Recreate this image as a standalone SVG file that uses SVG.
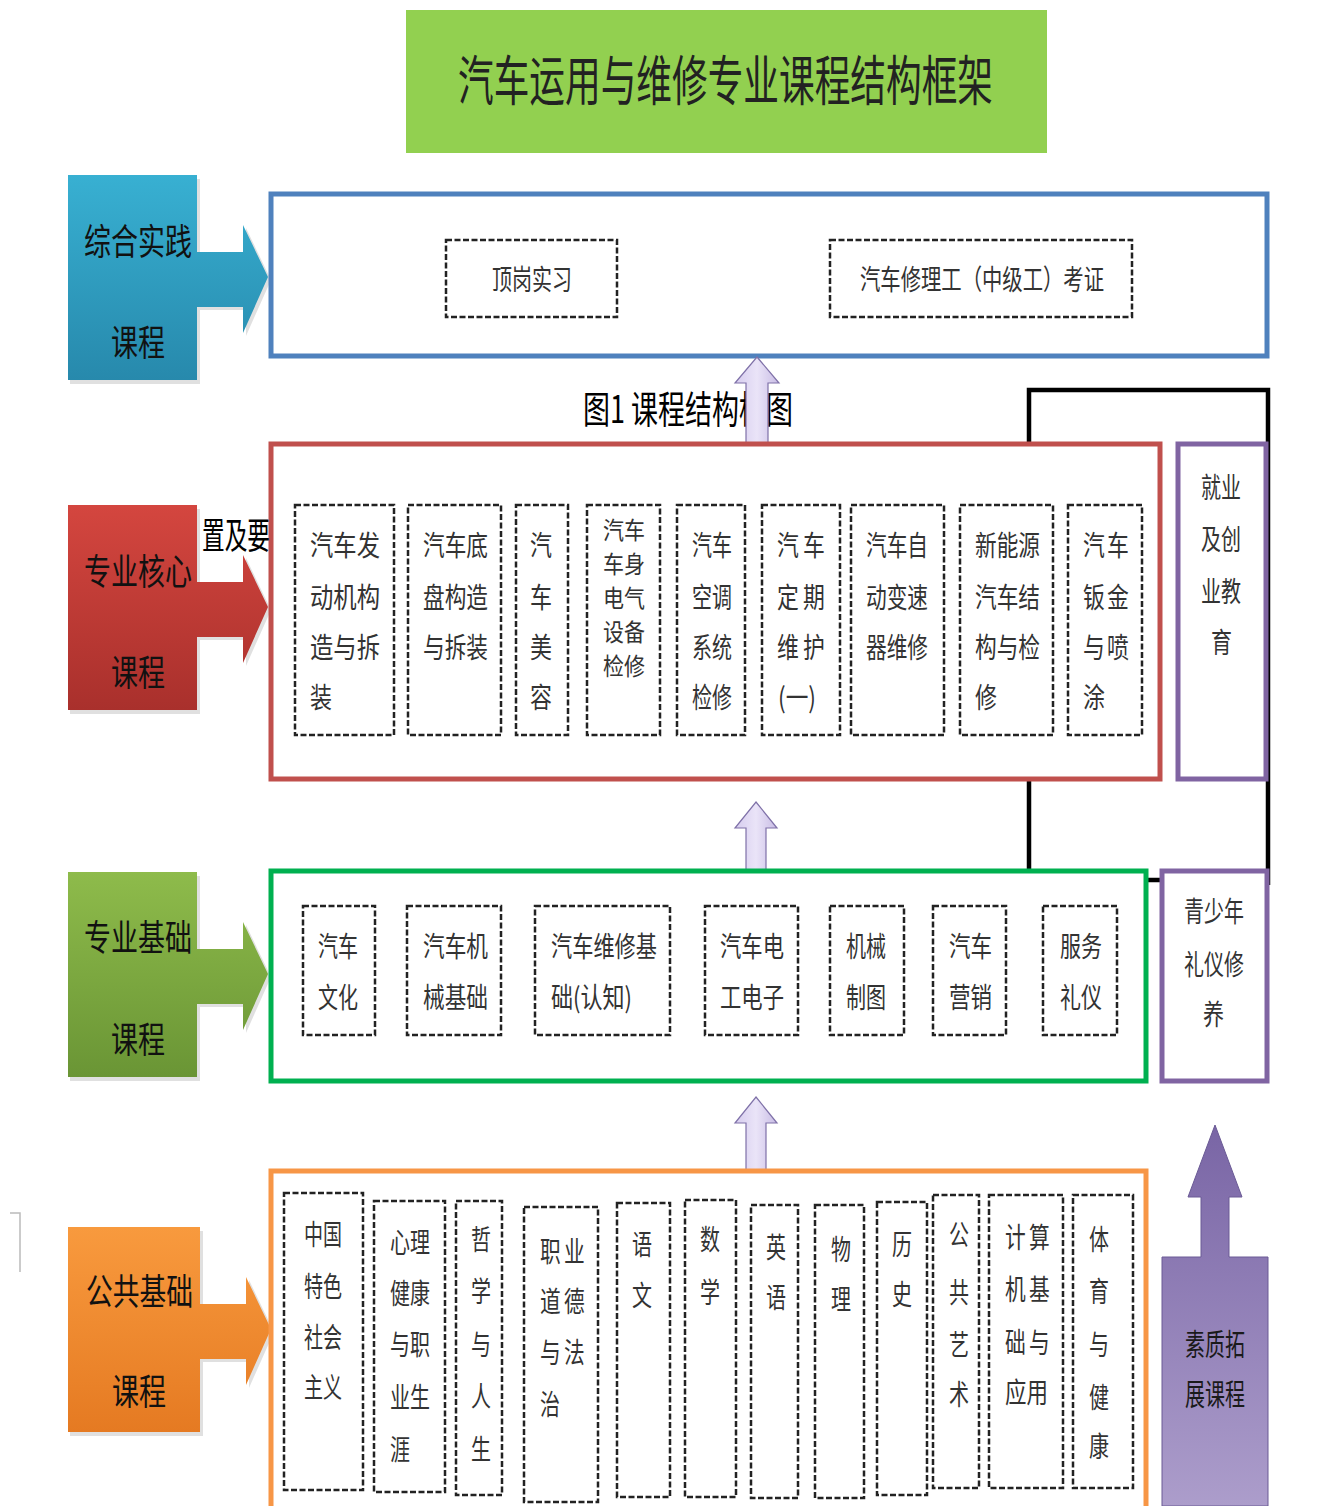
<svg xmlns="http://www.w3.org/2000/svg" width="1339" height="1506" viewBox="0 0 1339 1506">
<style>
text{font-family:"Noto Sans CJK SC","Noto Sans CJK SC",sans-serif}
.dash{fill:#fff;stroke:#222;stroke-width:2.5;stroke-dasharray:6 2.5}
.t{font-size:28px;fill:#333}
.s{font-size:24px;fill:#333}
.lbl{font-size:36px;fill:#111}
.frame{fill:#fff;stroke-width:5}
.up{fill:url(#lav);stroke:#7F71A8;stroke-width:1.2}
.conn{fill:none;stroke:#000;stroke-width:4.5}
.shadow{fill:#000;opacity:0.12}
</style>
<defs>
<linearGradient id="gBlue" x1="0" y1="0" x2="0" y2="1"><stop offset="0" stop-color="#38B0D2"/><stop offset="1" stop-color="#2789AC"/></linearGradient>
<linearGradient id="gRed" x1="0" y1="0" x2="0" y2="1"><stop offset="0" stop-color="#D4463F"/><stop offset="1" stop-color="#A9302C"/></linearGradient>
<linearGradient id="gGreen" x1="0" y1="0" x2="0" y2="1"><stop offset="0" stop-color="#8EBB4B"/><stop offset="1" stop-color="#6A9535"/></linearGradient>
<linearGradient id="gOrange" x1="0" y1="0" x2="0" y2="1"><stop offset="0" stop-color="#F89A3E"/><stop offset="1" stop-color="#E57A22"/></linearGradient>
<linearGradient id="lav" x1="0" y1="0" x2="1" y2="0"><stop offset="0" stop-color="#D6CCEE"/><stop offset="0.5" stop-color="#EAE4F8"/><stop offset="1" stop-color="#C8BCE4"/></linearGradient>
<linearGradient id="gPurple" x1="0" y1="0" x2="0" y2="1"><stop offset="0" stop-color="#7965A5"/><stop offset="1" stop-color="#AC9DCB"/></linearGradient>
</defs>
<rect width="1339" height="1506" fill="#fff"/>

<g id="title">
<rect x="406" y="10" width="641" height="143" fill="#92D050"/>
<text x="458" y="101" font-size="54" fill="#222" textLength="535" lengthAdjust="spacingAndGlyphs">汽车运用与维修专业课程结构框架</text>
</g>

<path d="M10,1213 H20 V1272" fill="none" stroke="#bbb" stroke-width="1.5"/>

<g id="label-zonghe">
<path class="shadow" d="M70,179 H200 V253 H246 V228 L271,280 L246,336 V310 H200 V384 H70 Z"/>
<path d="M68,175 H197 V252 H243 V225 L268,277 L243,333 V307 H197 V380 H68 Z" fill="url(#gBlue)"/>
<text class="lbl" x="84" y="255" textLength="108" lengthAdjust="spacingAndGlyphs">综合实践</text>
<text class="lbl" x="111" y="356" textLength="54" lengthAdjust="spacingAndGlyphs">课程</text>
</g>

<g id="label-hexin">
<path class="shadow" d="M70,509 H200 V583 H246 V558 L271,610 L246,666 V640 H200 V714 H70 Z"/>
<path d="M68,505 H197 V582 H243 V555 L268,607 L243,663 V637 H197 V710 H68 Z" fill="url(#gRed)"/>
<text class="lbl" x="84" y="585" textLength="108" lengthAdjust="spacingAndGlyphs">专业核心</text>
<text class="lbl" x="111" y="686" textLength="54" lengthAdjust="spacingAndGlyphs">课程</text>
</g>

<g id="label-jichu">
<path class="shadow" d="M70,876 H200 V950 H246 V925 L271,977 L246,1033 V1007 H200 V1081 H70 Z"/>
<path d="M68,872 H197 V949 H243 V922 L268,974 L243,1030 V1004 H197 V1077 H68 Z" fill="url(#gGreen)"/>
<text class="lbl" x="84" y="951" textLength="108" lengthAdjust="spacingAndGlyphs">专业基础</text>
<text class="lbl" x="111" y="1053" textLength="54" lengthAdjust="spacingAndGlyphs">课程</text>
</g>

<g id="label-gonggong">
<path class="shadow" d="M70,1231 H203 V1305 H249 V1280 L274,1332 L249,1388 V1362 H203 V1436 H70 Z"/>
<path d="M68,1227 H200 V1304 H246 V1277 L271,1329 L246,1385 V1359 H200 V1432 H68 Z" fill="url(#gOrange)"/>
<text class="lbl" x="86" y="1305" textLength="107" lengthAdjust="spacingAndGlyphs">公共基础</text>
<text class="lbl" x="112" y="1405" textLength="54" lengthAdjust="spacingAndGlyphs">课程</text>
</g>

<g id="box-zonghe">
<rect class="frame" x="271" y="194" width="996" height="162" stroke="#4F81BD" stroke-width="4.5"/>
<rect class="dash" x="446" y="240" width="171" height="77"/>
<text class="t" font-size="26" x="492" y="290" textLength="80" lengthAdjust="spacingAndGlyphs">顶岗实习</text>
<rect class="dash" x="830" y="240" width="302" height="77"/>
<text class="t" font-size="26" x="860" y="290" textLength="244" lengthAdjust="spacingAndGlyphs">汽车修理工（中级工）考证</text>
</g>

<g id="caption">
<text x="583" y="423" font-size="38" fill="#000" textLength="210" lengthAdjust="spacingAndGlyphs">图1 课程结构框图</text>
</g>

<g id="connectors">
<path class="conn" d="M1029,443 V390 H1268 V885"/>
<path class="conn" d="M1029,780 V870"/>
<path class="conn" d="M1146,880 H1163"/>
<path class="up" d="M757,357 L779,383 H768 V447 H746 V383 H735 Z"/>
<path class="up" d="M756,802 L777,828 H766 V872 H746 V828 H735 Z"/>
<path class="up" d="M756,1097 L777,1123 H766 V1170 H746 V1123 H735 Z"/>
</g>

<g id="box-hexin">
<rect class="frame" x="271" y="444" width="889" height="335" stroke="#C0504D"/>
<rect class="dash" x="295" y="505" width="99" height="230"/>
<text class="t" x="310" y="556" textLength="70" lengthAdjust="spacingAndGlyphs">汽车发</text>
<text class="t" x="310" y="608" textLength="70" lengthAdjust="spacingAndGlyphs">动机构</text>
<text class="t" x="310" y="658" textLength="70" lengthAdjust="spacingAndGlyphs">造与拆</text>
<text class="t" x="310" y="708" textLength="22" lengthAdjust="spacingAndGlyphs">装</text>
<rect class="dash" x="408" y="505" width="93" height="230"/>
<text class="t" x="423" y="556" textLength="65" lengthAdjust="spacingAndGlyphs">汽车底</text>
<text class="t" x="423" y="608" textLength="65" lengthAdjust="spacingAndGlyphs">盘构造</text>
<text class="t" x="423" y="658" textLength="65" lengthAdjust="spacingAndGlyphs">与拆装</text>
<rect class="dash" x="516" y="505" width="52" height="230"/>
<text class="t" x="530" y="556" textLength="22" lengthAdjust="spacingAndGlyphs">汽</text>
<text class="t" x="530" y="608" textLength="22" lengthAdjust="spacingAndGlyphs">车</text>
<text class="t" x="530" y="658" textLength="22" lengthAdjust="spacingAndGlyphs">美</text>
<text class="t" x="530" y="708" textLength="22" lengthAdjust="spacingAndGlyphs">容</text>
<rect class="dash" x="587" y="505" width="73" height="230"/>
<text class="s" x="603" y="539" textLength="42" lengthAdjust="spacingAndGlyphs">汽车</text>
<text class="s" x="603" y="573" textLength="42" lengthAdjust="spacingAndGlyphs">车身</text>
<text class="s" x="603" y="607" textLength="42" lengthAdjust="spacingAndGlyphs">电气</text>
<text class="s" x="603" y="641" textLength="42" lengthAdjust="spacingAndGlyphs">设备</text>
<text class="s" x="603" y="675" textLength="42" lengthAdjust="spacingAndGlyphs">检修</text>
<rect class="dash" x="677" y="505" width="68" height="230"/>
<text class="t" x="692" y="556" textLength="40" lengthAdjust="spacingAndGlyphs">汽车</text>
<text class="t" x="692" y="608" textLength="40" lengthAdjust="spacingAndGlyphs">空调</text>
<text class="t" x="692" y="658" textLength="40" lengthAdjust="spacingAndGlyphs">系统</text>
<text class="t" x="692" y="708" textLength="40" lengthAdjust="spacingAndGlyphs">检修</text>
<rect class="dash" x="762" y="505" width="78" height="230"/>
<text class="t" transform="translate(777,556) scale(0.78,1)">汽</text>
<text class="t" transform="translate(803,556) scale(0.78,1)">车</text>
<text class="t" transform="translate(777,608) scale(0.78,1)">定</text>
<text class="t" transform="translate(803,608) scale(0.78,1)">期</text>
<text class="t" transform="translate(777,658) scale(0.78,1)">维</text>
<text class="t" transform="translate(803,658) scale(0.78,1)">护</text>
<text class="t" x="778" y="708" textLength="38" lengthAdjust="spacingAndGlyphs">(一)</text>
<rect class="dash" x="851" y="505" width="93" height="230"/>
<text class="t" x="866" y="556" textLength="62" lengthAdjust="spacingAndGlyphs">汽车自</text>
<text class="t" x="866" y="608" textLength="62" lengthAdjust="spacingAndGlyphs">动变速</text>
<text class="t" x="866" y="658" textLength="62" lengthAdjust="spacingAndGlyphs">器维修</text>
<rect class="dash" x="960" y="505" width="93" height="230"/>
<text class="t" x="975" y="556" textLength="65" lengthAdjust="spacingAndGlyphs">新能源</text>
<text class="t" x="975" y="608" textLength="65" lengthAdjust="spacingAndGlyphs">汽车结</text>
<text class="t" x="975" y="658" textLength="65" lengthAdjust="spacingAndGlyphs">构与检</text>
<text class="t" x="975" y="708" textLength="22" lengthAdjust="spacingAndGlyphs">修</text>
<rect class="dash" x="1068" y="505" width="74" height="230"/>
<text class="t" transform="translate(1083,556) scale(0.78,1)">汽</text>
<text class="t" transform="translate(1107,556) scale(0.78,1)">车</text>
<text class="t" transform="translate(1083,608) scale(0.78,1)">钣</text>
<text class="t" transform="translate(1107,608) scale(0.78,1)">金</text>
<text class="t" transform="translate(1083,658) scale(0.78,1)">与</text>
<text class="t" transform="translate(1107,658) scale(0.78,1)">喷</text>
<text class="t" x="1083" y="708" textLength="22" lengthAdjust="spacingAndGlyphs">涂</text>
</g>

<g id="note">
<text x="202" y="549" font-size="36" fill="#000" textLength="68" lengthAdjust="spacingAndGlyphs">置及要</text>
</g>

<g id="box-jiuye">
<rect class="frame" x="1178" y="444" width="88" height="335" stroke="#8064A2"/>
<text class="t" x="1201" y="498" textLength="40" lengthAdjust="spacingAndGlyphs">就业</text>
<text class="t" x="1201" y="550" textLength="40" lengthAdjust="spacingAndGlyphs">及创</text>
<text class="t" x="1201" y="602" textLength="40" lengthAdjust="spacingAndGlyphs">业教</text>
<text class="t" x="1211" y="653" textLength="21" lengthAdjust="spacingAndGlyphs">育</text>
</g>

<g id="box-jichu">
<rect class="frame" x="271" y="871" width="875" height="210" stroke="#00B050"/>
<rect class="dash" x="303" y="906" width="72" height="129"/>
<text class="t" x="318" y="957" textLength="40" lengthAdjust="spacingAndGlyphs">汽车</text>
<text class="t" x="318" y="1008" textLength="40" lengthAdjust="spacingAndGlyphs">文化</text>
<rect class="dash" x="407" y="906" width="94" height="129"/>
<text class="t" x="423" y="957" textLength="65" lengthAdjust="spacingAndGlyphs">汽车机</text>
<text class="t" x="423" y="1008" textLength="65" lengthAdjust="spacingAndGlyphs">械基础</text>
<rect class="dash" x="535" y="906" width="135" height="129"/>
<text class="t" x="551" y="957" textLength="106" lengthAdjust="spacingAndGlyphs">汽车维修基</text>
<text class="t" x="551" y="1008" textLength="81" lengthAdjust="spacingAndGlyphs">础(认知)</text>
<rect class="dash" x="705" y="906" width="93" height="129"/>
<text class="t" x="720" y="957" textLength="64" lengthAdjust="spacingAndGlyphs">汽车电</text>
<text class="t" x="720" y="1008" textLength="64" lengthAdjust="spacingAndGlyphs">工电子</text>
<rect class="dash" x="830" y="906" width="74" height="129"/>
<text class="t" x="846" y="957" textLength="40" lengthAdjust="spacingAndGlyphs">机械</text>
<text class="t" x="846" y="1008" textLength="40" lengthAdjust="spacingAndGlyphs">制图</text>
<rect class="dash" x="933" y="906" width="73" height="129"/>
<text class="t" x="949" y="957" textLength="43" lengthAdjust="spacingAndGlyphs">汽车</text>
<text class="t" x="949" y="1008" textLength="43" lengthAdjust="spacingAndGlyphs">营销</text>
<rect class="dash" x="1043" y="906" width="74" height="129"/>
<text class="t" x="1060" y="957" textLength="42" lengthAdjust="spacingAndGlyphs">服务</text>
<text class="t" x="1060" y="1008" textLength="42" lengthAdjust="spacingAndGlyphs">礼仪</text>
</g>

<g id="box-liyi">
<rect class="frame" x="1162" y="871" width="105" height="210" stroke="#8064A2" stroke-width="4.5"/>
<text class="t" x="1184" y="922" textLength="60" lengthAdjust="spacingAndGlyphs">青少年</text>
<text class="t" x="1184" y="975" textLength="60" lengthAdjust="spacingAndGlyphs">礼仪修</text>
<text class="t" x="1203" y="1025" textLength="21" lengthAdjust="spacingAndGlyphs">养</text>
</g>

<g id="box-gonggong">
<rect class="frame" x="271" y="1171" width="875" height="400" stroke="#F79646"/>
<rect class="dash" x="284" y="1193" width="79" height="297"/>
<text class="t" x="304" y="1245" textLength="38" lengthAdjust="spacingAndGlyphs">中国</text>
<text class="t" x="304" y="1297" textLength="38" lengthAdjust="spacingAndGlyphs">特色</text>
<text class="t" x="304" y="1348" textLength="38" lengthAdjust="spacingAndGlyphs">社会</text>
<text class="t" x="304" y="1398" textLength="38" lengthAdjust="spacingAndGlyphs">主义</text>
<rect class="dash" x="374" y="1201" width="71" height="291"/>
<text class="t" x="390" y="1253" textLength="40" lengthAdjust="spacingAndGlyphs">心理</text>
<text class="t" x="390" y="1304" textLength="40" lengthAdjust="spacingAndGlyphs">健康</text>
<text class="t" x="390" y="1355" textLength="40" lengthAdjust="spacingAndGlyphs">与职</text>
<text class="t" x="390" y="1408" textLength="40" lengthAdjust="spacingAndGlyphs">业生</text>
<text class="t" x="390" y="1460" textLength="20" lengthAdjust="spacingAndGlyphs">涯</text>
<rect class="dash" x="456" y="1201" width="46" height="294"/>
<text class="t" x="471" y="1250" textLength="20" lengthAdjust="spacingAndGlyphs">哲</text>
<text class="t" x="471" y="1302" textLength="20" lengthAdjust="spacingAndGlyphs">学</text>
<text class="t" x="471" y="1355" textLength="20" lengthAdjust="spacingAndGlyphs">与</text>
<text class="t" x="471" y="1407" textLength="20" lengthAdjust="spacingAndGlyphs">人</text>
<text class="t" x="471" y="1460" textLength="20" lengthAdjust="spacingAndGlyphs">生</text>
<rect class="dash" x="524" y="1207" width="74" height="295"/>
<text class="t" transform="translate(540,1262) scale(0.74,1)">职</text>
<text class="t" transform="translate(564,1262) scale(0.74,1)">业</text>
<text class="t" transform="translate(540,1312) scale(0.74,1)">道</text>
<text class="t" transform="translate(564,1312) scale(0.74,1)">德</text>
<text class="t" transform="translate(540,1363) scale(0.74,1)">与</text>
<text class="t" transform="translate(564,1363) scale(0.74,1)">法</text>
<text class="t" x="540" y="1415" textLength="20" lengthAdjust="spacingAndGlyphs">治</text>
<rect class="dash" x="617" y="1203" width="53" height="294"/>
<text class="t" x="632" y="1255" textLength="20" lengthAdjust="spacingAndGlyphs">语</text>
<text class="t" x="632" y="1306" textLength="20" lengthAdjust="spacingAndGlyphs">文</text>
<rect class="dash" x="685" y="1200" width="51" height="297"/>
<text class="t" x="700" y="1250" textLength="20" lengthAdjust="spacingAndGlyphs">数</text>
<text class="t" x="700" y="1303" textLength="20" lengthAdjust="spacingAndGlyphs">学</text>
<rect class="dash" x="751" y="1205" width="47" height="293"/>
<text class="t" x="766" y="1258" textLength="20" lengthAdjust="spacingAndGlyphs">英</text>
<text class="t" x="766" y="1308" textLength="20" lengthAdjust="spacingAndGlyphs">语</text>
<rect class="dash" x="815" y="1205" width="49" height="293"/>
<text class="t" x="831" y="1260" textLength="20" lengthAdjust="spacingAndGlyphs">物</text>
<text class="t" x="831" y="1310" textLength="20" lengthAdjust="spacingAndGlyphs">理</text>
<rect class="dash" x="877" y="1202" width="50" height="293"/>
<text class="t" x="892" y="1255" textLength="20" lengthAdjust="spacingAndGlyphs">历</text>
<text class="t" x="892" y="1305" textLength="20" lengthAdjust="spacingAndGlyphs">史</text>
<rect class="dash" x="933" y="1195" width="46" height="293"/>
<text class="t" x="949" y="1245" textLength="20" lengthAdjust="spacingAndGlyphs">公</text>
<text class="t" x="949" y="1303" textLength="20" lengthAdjust="spacingAndGlyphs">共</text>
<text class="t" x="949" y="1355" textLength="20" lengthAdjust="spacingAndGlyphs">艺</text>
<text class="t" x="949" y="1405" textLength="20" lengthAdjust="spacingAndGlyphs">术</text>
<rect class="dash" x="989" y="1195" width="74" height="293"/>
<text class="t" transform="translate(1005,1248) scale(0.74,1)">计</text>
<text class="t" transform="translate(1029,1248) scale(0.74,1)">算</text>
<text class="t" transform="translate(1005,1300) scale(0.74,1)">机</text>
<text class="t" transform="translate(1029,1300) scale(0.74,1)">基</text>
<text class="t" transform="translate(1005,1353) scale(0.74,1)">础</text>
<text class="t" transform="translate(1029,1353) scale(0.74,1)">与</text>
<text class="t" x="1005" y="1403" textLength="43" lengthAdjust="spacingAndGlyphs">应用</text>
<rect class="dash" x="1073" y="1195" width="60" height="293"/>
<text class="t" x="1089" y="1250" textLength="20" lengthAdjust="spacingAndGlyphs">体</text>
<text class="t" x="1089" y="1302" textLength="20" lengthAdjust="spacingAndGlyphs">育</text>
<text class="t" x="1089" y="1355" textLength="20" lengthAdjust="spacingAndGlyphs">与</text>
<text class="t" x="1089" y="1408" textLength="20" lengthAdjust="spacingAndGlyphs">健</text>
<text class="t" x="1089" y="1457" textLength="20" lengthAdjust="spacingAndGlyphs">康</text>
</g>

<g id="suzhi">
<path d="M1215,1125 L1242,1197 H1229 V1257 H1268 V1506 H1162 V1257 H1201 V1197 H1188 Z" fill="url(#gPurple)" stroke="#6A5A95" stroke-width="1"/>
<text x="1185" y="1355" font-size="30" fill="#1a1a1a" textLength="60" lengthAdjust="spacingAndGlyphs">素质拓</text>
<text x="1185" y="1405" font-size="30" fill="#1a1a1a" textLength="60" lengthAdjust="spacingAndGlyphs">展课程</text>
</g>
</svg>
